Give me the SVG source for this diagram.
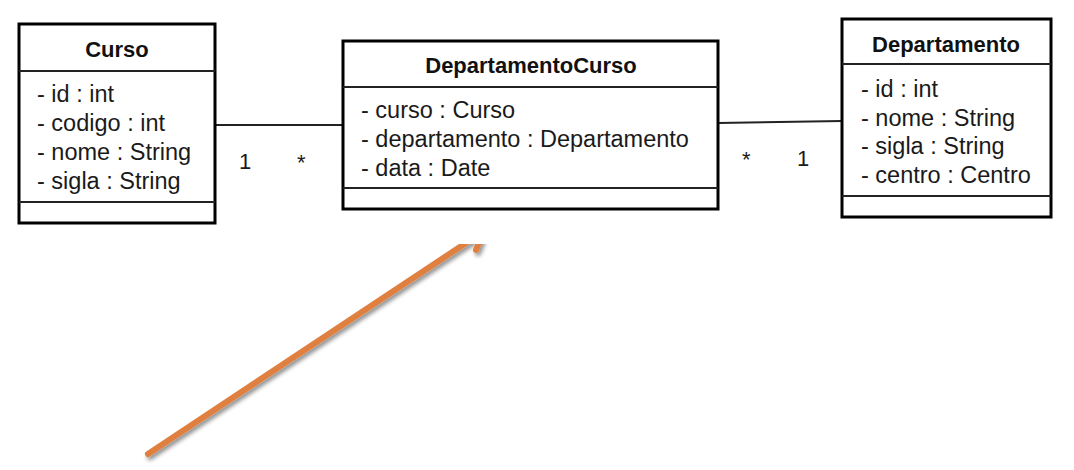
<svg xmlns="http://www.w3.org/2000/svg" width="1074" height="470" viewBox="0 0 1074 470">
  <style>
    .box { fill: #ffffff; stroke: #000000; stroke-width: 3; }
    .sep { stroke: #222222; stroke-width: 2; }
    .title { font-family: "Liberation Sans", Arial, sans-serif; font-size: 22px; font-weight: bold; fill: #111111; text-anchor: middle; }
    .attr { font-family: "Liberation Sans", Arial, sans-serif; font-size: 23.5px; fill: #1a1a1a; }
    .mult { font-family: "Liberation Sans", Arial, sans-serif; font-size: 22px; fill: #1a1a1a; }
    .assoc { stroke: #222222; stroke-width: 2; fill: none; }
    .orange { stroke: #E0803F; stroke-width: 6; fill: none; stroke-linecap: round; }
  </style>
  <defs>
    <filter id="shadow" x="-10%" y="-10%" width="130%" height="130%">
      <feGaussianBlur in="SourceAlpha" stdDeviation="2"/>
      <feOffset dx="2" dy="3" result="b"/>
      <feComponentTransfer><feFuncA type="linear" slope="0.45"/></feComponentTransfer>
      <feMerge><feMergeNode/><feMergeNode in="SourceGraphic"/></feMerge>
    </filter>
    <clipPath id="clipArrow">
      <rect x="0" y="244" width="1074" height="226"/>
    </clipPath>
  </defs>
  <rect width="1074" height="470" fill="#ffffff"/>

  <g id="connectors">
    <line class="assoc" x1="215" y1="125" x2="343" y2="125"/>
    <line class="assoc" x1="718" y1="123" x2="842" y2="121"/>
    <text class="mult" x="239" y="169">1</text>
    <text class="mult" x="297" y="170">*</text>
    <text class="mult" x="742" y="167">*</text>
    <text class="mult" x="797" y="166">1</text>
    <g clip-path="url(#clipArrow)" filter="url(#shadow)">
      <path class="orange" d="M148,454 L484,231 M476,250 L484,231 L464,231"/>
    </g>
  </g>

  <g id="curso">
    <rect class="box" x="19" y="24" width="196" height="199"/>
    <line class="sep" x1="19" y1="71" x2="215" y2="71"/>
    <line class="sep" x1="19" y1="202" x2="215" y2="202"/>
    <text class="title" x="117" y="57">Curso</text>
    <text class="attr" x="37" y="102">- id : int</text>
    <text class="attr" x="37" y="131">- codigo : int</text>
    <text class="attr" x="37" y="160">- nome : String</text>
    <text class="attr" x="37" y="189">- sigla : String</text>
  </g>

  <g id="departamentoCurso">
    <rect class="box" x="343" y="41" width="375" height="168"/>
    <line class="sep" x1="343" y1="87" x2="718" y2="87"/>
    <line class="sep" x1="343" y1="188" x2="718" y2="188"/>
    <text class="title" x="531" y="73">DepartamentoCurso</text>
    <text class="attr" x="361" y="118">- curso : Curso</text>
    <text class="attr" x="361" y="147">- departamento : Departamento</text>
    <text class="attr" x="361" y="176">- data : Date</text>
  </g>

  <g id="departamento">
    <rect class="box" x="842" y="19" width="209" height="198"/>
    <line class="sep" x1="842" y1="64" x2="1051" y2="64"/>
    <line class="sep" x1="842" y1="196" x2="1051" y2="196"/>
    <text class="title" x="946" y="52">Departamento</text>
    <text class="attr" x="861" y="97">- id : int</text>
    <text class="attr" x="861" y="126">- nome : String</text>
    <text class="attr" x="861" y="154">- sigla : String</text>
    <text class="attr" x="861" y="183">- centro : Centro</text>
  </g>
</svg>
